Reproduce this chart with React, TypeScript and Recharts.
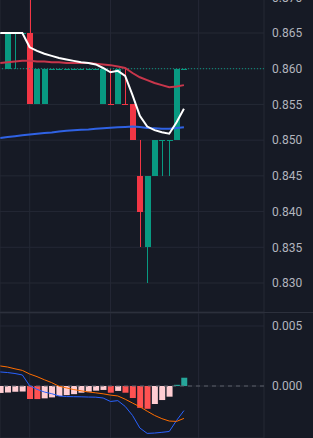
import React from 'react';
import { ComposedChart, Bar, Line, XAxis, YAxis, CartesianGrid, ReferenceLine, Cell } from 'recharts';

// ---- data ----
const barIndex = [0, 1, 2, 3, 4, 5, 6, 7, 8, 9, 10, 11, 12, 13, 14, 15, 16, 17, 18, 19, 20, 21, 22, 23, 24, 25];
const opens = [0.865, 0.86, 0.865, 0.865, 0.865, 0.855, 0.855, 0.86, 0.86, 0.86, 0.86, 0.86, 0.86, 0.86, 0.855, 0.855, 0.855, 0.855, 0.855, 0.845, 0.835, 0.845, 0.85, 0.85, 0.85, 0.86];
const highs = [0.865, 0.865, 0.865, 0.865, 0.87, 0.86, 0.86, 0.86, 0.86, 0.86, 0.86, 0.86, 0.86, 0.86, 0.86, 0.86, 0.86, 0.86, 0.855, 0.85, 0.845, 0.85, 0.85, 0.85, 0.86, 0.86];
const lows = [0.865, 0.86, 0.86, 0.865, 0.855, 0.855, 0.855, 0.86, 0.86, 0.86, 0.86, 0.86, 0.86, 0.86, 0.855, 0.855, 0.855, 0.855, 0.85, 0.835, 0.83, 0.845, 0.845, 0.845, 0.85, 0.86];
const closes = [0.865, 0.865, 0.865, 0.865, 0.855, 0.86, 0.86, 0.86, 0.86, 0.86, 0.86, 0.86, 0.86, 0.86, 0.86, 0.855, 0.86, 0.855, 0.85, 0.84, 0.845, 0.85, 0.85, 0.85, 0.86, 0.86];

const maWhite = [0.865, 0.865, 0.865, 0.865, 0.863, 0.8625, 0.8621, 0.8618, 0.8615, 0.8613, 0.8611, 0.8609, 0.8608, 0.8606, 0.8601, 0.8595, 0.8597, 0.859, 0.8563, 0.8534, 0.8519, 0.8514, 0.8511, 0.8509, 0.8525, 0.8544];
const maRed = [0.8608, 0.8609, 0.861, 0.8611, 0.8611, 0.861, 0.861, 0.8609, 0.8609, 0.8608, 0.8608, 0.8608, 0.8608, 0.8607, 0.8606, 0.8605, 0.8603, 0.8601, 0.8594, 0.8588, 0.8584, 0.858, 0.8577, 0.8574, 0.8575, 0.8577];
const maBlue = [0.8503, 0.85043, 0.85055, 0.85068, 0.8508, 0.8509, 0.851, 0.85108, 0.8512, 0.8513, 0.85138, 0.85145, 0.8515, 0.85158, 0.85165, 0.85172, 0.8518, 0.85185, 0.8519, 0.85185, 0.8517, 0.85168, 0.8516, 0.8516, 0.8517, 0.8518];

const macdHist = [-0.00058, -0.00055, -0.00048, -0.00046, -0.00108, -0.00109, -0.00103, -0.00095, -0.00084, -0.00076, -0.00068, -0.00056, -0.00047, -0.00039, -0.00033, -0.00056, -0.00041, -0.00056, -0.001, -0.00182, -0.0019, -0.0015, -0.00117, -0.00089, 0.0001, 0.00069];
const macdLine = [0.00117, 0.00112, 0.00104, 0.00092, 0.00002, -0.00028, -0.0005, -0.00064, -0.00083, -0.00088, -0.00089, -0.0009, -0.00092, -0.00093, -0.001, -0.00129, -0.00122, -0.0017, -0.00245, -0.0035, -0.00395, -0.00392, -0.00386, -0.00379, -0.00287, -0.00205];
const signalLine = [0.00167, 0.00158, 0.00143, 0.0013, 0.001, 0.00078, 0.00052, 0.00028, -0.00002, -0.00016, -0.0003, -0.0004, -0.0005, -0.00057, -0.00065, -0.00076, -0.00083, -0.0011, -0.00142, -0.00173, -0.0021, -0.00245, -0.00272, -0.00292, -0.00295, -0.0027];

const priceTicks = [0.83, 0.835, 0.84, 0.845, 0.85, 0.855, 0.86, 0.865, 0.87];
const macdTicks = [0, 0.005];
const timeGridAt = [4, 15, 27];

// ---- styles ----
const BG = '#161A25';
const GRID = '#242835';
const TEXT = '#B2B5BE';
const UP = '#089981';
const DOWN = '#F23645';
const FONT = 'Roboto, "Noto Sans", sans-serif';

const data = barIndex.map((i) => {
  const o = opens[i];
  const c = closes[i];
  let dir = c > o ? 1 : c < o ? -1 : 1;
  if (c === o && i > 0 && c < closes[i - 1]) dir = -1;
  return {
    i,
    open: o,
    high: highs[i],
    low: lows[i],
    close: c,
    dir,
    range: [lows[i], highs[i]],
    maWhite: maWhite[i],
    maRed: maRed[i],
    maBlue: maBlue[i],
    hist: macdHist[i],
    macd: macdLine[i],
    signal: signalLine[i],
  };
});

const histColor = (i: number) => {
  const v = macdHist[i];
  const prev = i > 0 ? macdHist[i - 1] : -Infinity;
  if (v >= 0) return v > prev ? '#26A69A' : '#B2DFDB';
  return v > prev ? '#FFCDD2' : '#FF5252';
};

const Candle = (props: any) => {
  const { x, y, width, height, payload } = props;
  if (x == null || y == null || !payload) return null;
  const { open, close, high, low, dir } = payload;
  const color = dir < 0 ? DOWN : UP;
  const top = height >= 0 ? y : y + height;
  const h = Math.abs(height || 0);
  const cx = Math.floor(x + width / 2) + 0.5;
  const bx = Math.round(x);
  const bw = Math.round(width);
  if (h < 0.01 || high === low) {
    return <rect x={bx} y={Math.round(top) - 0.5} width={bw} height={1} fill={color} shapeRendering="crispEdges" />;
  }
  const k = h / (high - low);
  const yO = top + (high - open) * k;
  const yC = top + (high - close) * k;
  const bTop = Math.min(yO, yC);
  const bH = Math.abs(yO - yC);
  return (
    <g>
      <line x1={cx} x2={cx} y1={top} y2={top + h} stroke={color} strokeWidth={1} shapeRendering="crispEdges" />
      {bH < 1 ? (
        <rect x={bx} y={Math.round(bTop) - 0.5} width={bw} height={1} fill={color} shapeRendering="crispEdges" />
      ) : (
        <rect x={bx} y={bTop} width={bw} height={bH} fill={color} shapeRendering="crispEdges" />
      )}
    </g>
  );
};

const xDomain = [-0.0408, 35.902];
const tickStyle = { fill: TEXT, fontSize: 12, fontFamily: FONT };
const fmt = (v: number) => v.toFixed(3);

export default function App() {
  return (
    <div style={{ position: 'absolute', left: 0, top: 0, width: 313, height: 438, background: BG, overflow: 'hidden' }}>
      <div style={{ position: 'absolute', left: 0, top: -20 }}>
        <ComposedChart width={313} height={332} data={data} margin={{ top: 0, right: 0, bottom: 0, left: 0 }}>
          <CartesianGrid stroke={GRID} strokeWidth={1} />
          <XAxis type="number" dataKey="i" domain={xDomain} allowDataOverflow ticks={timeGridAt} interval={0} hide />
          <YAxis
            orientation="right"
            width={49}
            type="number"
            domain={[0.82594, 0.87242]}
            allowDataOverflow
            ticks={priceTicks}
            interval={0}
            tickFormatter={fmt}
            axisLine={false}
            tickLine={false}
            tick={tickStyle}
          />
          <ReferenceLine y={closes[closes.length - 1]} stroke={UP} strokeDasharray="1 2" strokeWidth={1} />
          <Line type="linear" dataKey="maBlue" stroke="#2F62E4" strokeWidth={2} dot={false} activeDot={false} isAnimationActive={false} />
          <Line type="linear" dataKey="maRed" stroke="#C8364B" strokeWidth={2} dot={false} activeDot={false} isAnimationActive={false} />
          <Line type="linear" dataKey="maWhite" stroke="#FFFFFF" strokeWidth={2} dot={false} activeDot={false} isAnimationActive={false} />
          <Bar dataKey="range" barSize={6} shape={<Candle />} isAnimationActive={false} />
        </ComposedChart>
      </div>
      <div style={{ position: 'absolute', left: 0, top: 312, width: 313, height: 1, background: '#2C303C' }} />
      <div style={{ position: 'absolute', left: 0, top: 313 }}>
        <ComposedChart width={313} height={125} data={data} margin={{ top: 0, right: 0, bottom: 0, left: 0 }}>
          <CartesianGrid stroke={GRID} strokeWidth={1} />
          <XAxis type="number" dataKey="i" domain={xDomain} allowDataOverflow ticks={timeGridAt} interval={0} hide />
          <YAxis
            orientation="right"
            width={49}
            type="number"
            domain={[-0.0043333, 0.0060833]}
            allowDataOverflow
            ticks={macdTicks}
            interval={0}
            tickFormatter={fmt}
            axisLine={false}
            tickLine={false}
            tick={tickStyle}
          />
          <ReferenceLine y={0} stroke="#5D606B" strokeDasharray="4 4" strokeWidth={1} />
          <Bar dataKey="hist" barSize={6} isAnimationActive={false}>
            {barIndex.map((i) => (
              <Cell key={i} fill={histColor(i)} />
            ))}
          </Bar>
          <Line type="linear" dataKey="macd" stroke="#2962FF" strokeWidth={1} dot={false} activeDot={false} isAnimationActive={false} />
          <Line type="linear" dataKey="signal" stroke="#FF6D00" strokeWidth={1} dot={false} activeDot={false} isAnimationActive={false} />
        </ComposedChart>
      </div>
    </div>
  );
}
